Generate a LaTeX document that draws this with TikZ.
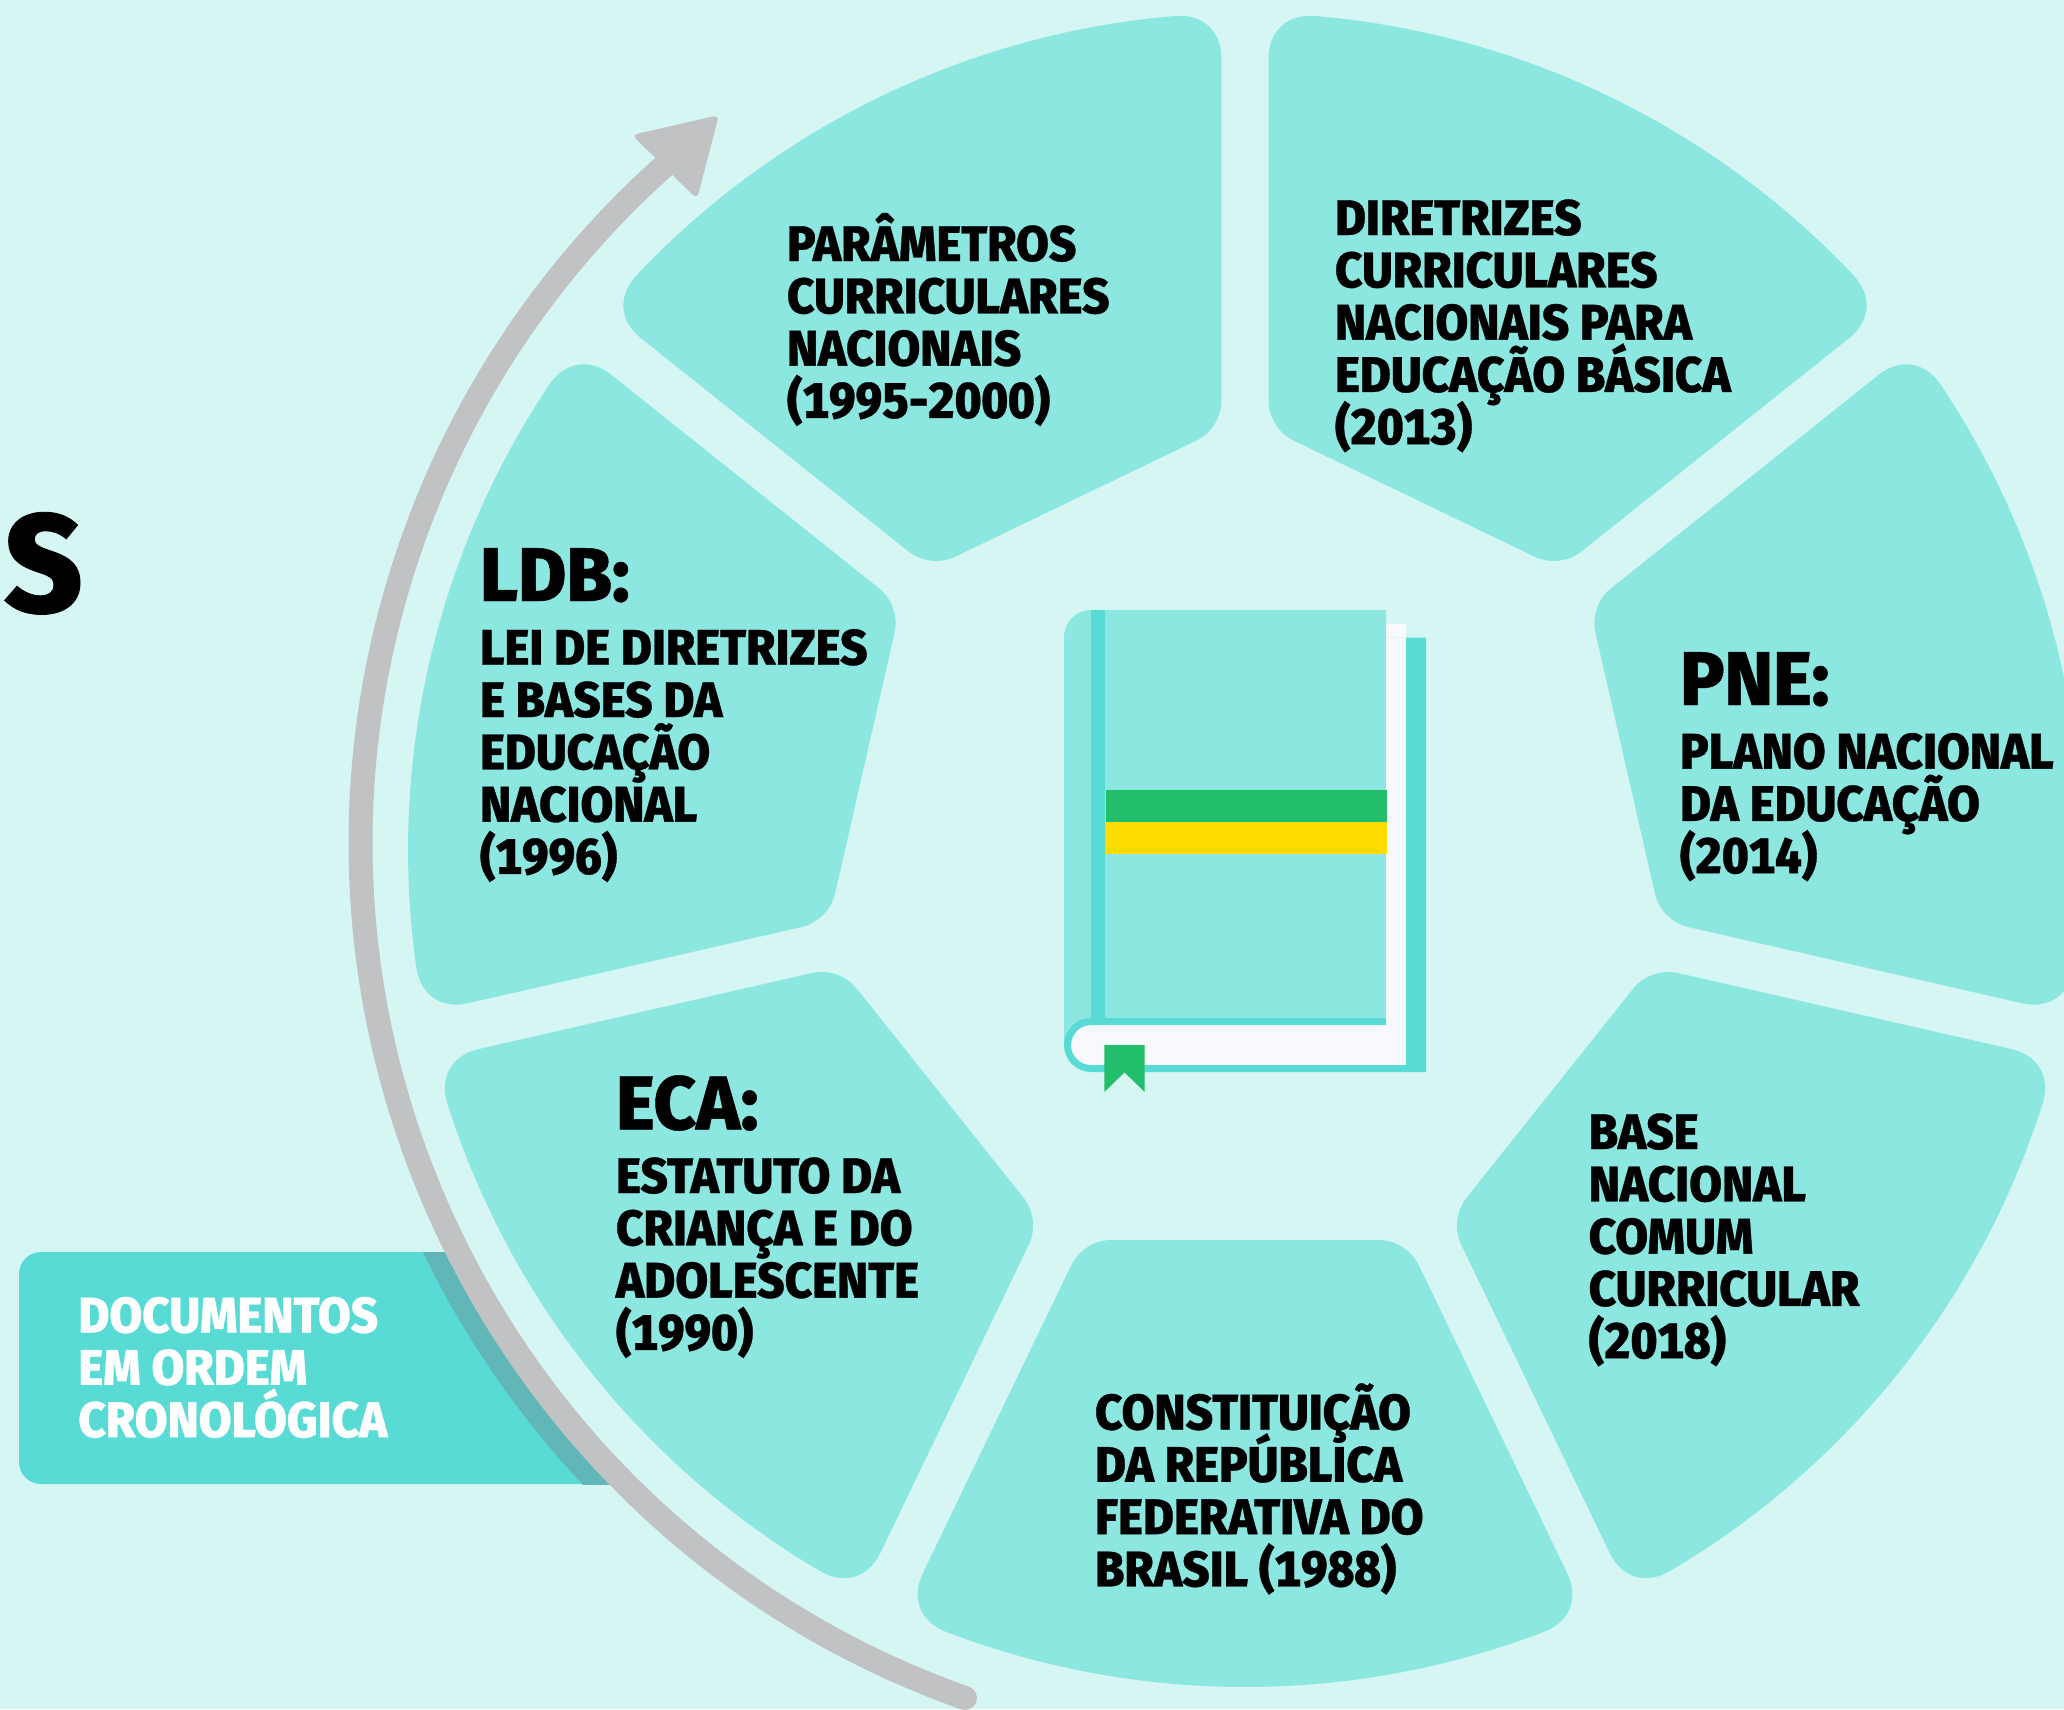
\documentclass[tikz,border=0pt]{standalone}
\usepackage{fontspec}
\newfontfamily\fb{Fira Sans}[UprightFont=* ExtraBold,FakeStretch=0.95,FakeBold=0.6,Numbers={Lining,Monospaced}]
\newfontfamily\fh{Fira Sans}[UprightFont=* ExtraBold,FakeStretch=0.97,FakeBold=0.6]
\newcommand{\bodyfont}{\fb\fontsize{50}{52.3}\selectfont\lineskiplimit=-200pt\relax}
\newcommand{\headfont}{\fh\fontsize{76}{76}\selectfont}
\newcommand{\firstrule}{\rule{0pt}{50pt}}
\definecolor{bgc}{HTML}{D6F6F4}
\definecolor{segc}{HTML}{8CE7E1}
\definecolor{darkc}{HTML}{59DBD5}
\definecolor{grayc}{HTML}{C0C2C4}
\definecolor{shadowc}{HTML}{61B7B8}
\definecolor{greenc}{HTML}{22BE6B}
\definecolor{yellowc}{HTML}{FFDC00}
\definecolor{pagec}{HTML}{F7F9FD}
\tikzset{
  lab/.style={anchor=north west,inner sep=0pt,outer sep=0pt,align=left,font=\bodyfont,text=black},
  wlab/.style={lab,text=white},
  headlab/.style={anchor=base west,inner sep=0pt,outer sep=0pt,font=\headfont,text=black},
}
\begin{document}
\begin{tikzpicture}[x=1pt,y=-1pt]
\useasboundingbox (0,0) rectangle (2064,1709);
\clip (0,0) rectangle (2064,1709);
\fill[bgc] (0,0) rectangle (2064,1709);
% wheel
\foreach \k in {0,...,6}{
  \begin{scope}[shift={(1245,850)},rotate={\k*360/7}]
  \fill[segc] (133.7,390) .. controls (150.5,390) and (166.5,400.1) .. (173.8,415.2) -- (322.3,723.5)
    .. controls (334,747.8) and (325.1,771) .. (300,781.4)
    .. controls (106.9,855.5) and (-106.9,855.5) .. (-300,781.4)
    .. controls (-325.1,771) and (-334,747.8) .. (-322.3,723.5) -- (-173.8,415.2)
    .. controls (-166.5,400.1) and (-150.5,390) .. (-133.7,390) -- cycle;
  \end{scope}
}
% label box
\fill[darkc] (425,1252) -- (41,1252) arc[start angle=270,end angle=180,radius=22] -- (19,1462)
  arc[start angle=180,end angle=90,radius=22] -- (590,1484) -- cycle;
\begin{scope}
  \clip (300,1252) rectangle (800,1484);
  \draw[shadowc,line width=26pt] (1267,843) ++(109:925) arc[start angle=109,end angle=180,radius=925];
\end{scope}
% arrow
\coordinate (arrowstart) at (965,1698);
\draw[grayc,line width=24pt,line cap=round] (arrowstart) arc[start angle=109.5,end angle=228.2,radius=907];
\fill[grayc,rounded corners=6pt] (719,115) -- (632,135) -- (697,199) -- cycle;
% book
\fill[segc] (1064,637) arc[start angle=180,end angle=270,radius=27] -- (1386,610) -- (1386,1030) -- (1064,1045) -- cycle;
\fill[pagec] (1386,623.7) -- (1406,623.7) -- (1406,1065) -- (1091,1065) arc[start angle=90,end angle=270,radius=20] -- (1386,1025) -- cycle;
\fill[darkc] (1091,610) rectangle (1105,1018);
\fill[darkc] (1386,637.5) -- (1426,637.5) -- (1426,1072) -- (1091,1072) arc[start angle=90,end angle=270,radius=27] -- (1386,1018) -- (1386,1025) -- (1091,1025) arc[start angle=270,end angle=90,radius=20] -- (1406,1065) -- (1406,637.5) -- cycle;
\fill[greenc] (1106,790) rectangle (1386.7,822);
\fill[yellowc] (1106,822) rectangle (1386.7,853.8);
\fill[greenc] (1104.3,1045) -- (1144.7,1045) -- (1144.7,1092) -- (1124.5,1072.4) -- (1104.3,1092) -- cycle;
% texts
\node[headlab,font=\fh\fontsize{140}{140}\selectfont] (title) at (4,612) {S};
\node[lab] (pcn) at (787,211) {\firstrule PARÂMETROS\\CURRICULARES\\NACIONAIS\\(1995-2000)};
\node[lab] (dcn) at (1335,185) {\firstrule DIRETRIZES\\CURRICULARES\\NACIONAIS PARA\\EDUCAÇÃO BÁSICA\\(2013)};
\node[headlab] (ldbh) at (480,601) {LDB:};
\node[lab] (ldb) at (480,614.7) {\firstrule LEI DE DIRETRIZES\\E BASES DA\\EDUCAÇÃO\\NACIONAL\\(1996)};
\node[headlab] (pneh) at (1680,705) {PNE:};
\node[lab] (pne) at (1680,718.6) {\firstrule PLANO NACIONAL\\DA EDUCAÇÃO\\(2014)};
\node[headlab] (ecah) at (616,1129.4) {ECA:};
\node[lab] (eca) at (616,1143) {\firstrule ESTATUTO DA\\CRIANÇA E DO\\ADOLESCENTE\\(1990)};
\node[lab] (bncc) at (1588.7,1099) {\firstrule BASE\\NACIONAL\\COMUM\\CURRICULAR\\(2018)};
\node[lab] (cf) at (1095,1379.5) {\firstrule CONSTITUIÇÃO\\DA REPÚBLICA\\FEDERATIVA DO\\BRASIL (1988)};
\node[wlab] (doc) at (78.4,1282.5) {\firstrule DOCUMENTOS\\EM ORDEM\\CRONOLÓGICA};
\end{tikzpicture}
\end{document}
